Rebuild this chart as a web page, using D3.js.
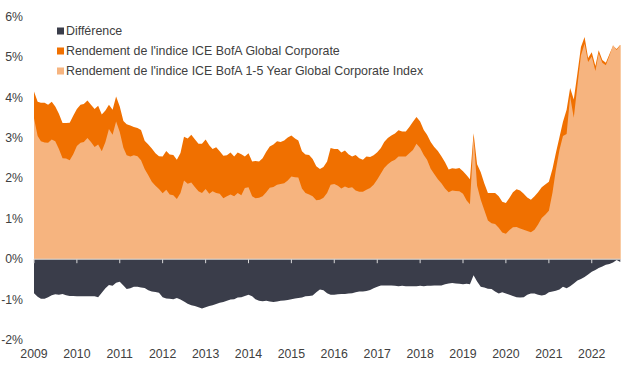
<!DOCTYPE html>
<html>
<head>
<meta charset="utf-8">
<script src="https://cdn.jsdelivr.net/npm/d3@7/dist/d3.min.js"></script>
<style>
  html, body { margin: 0; padding: 0; background: #fff; }
  svg { display: block; font-family: "Liberation Sans", Arial, sans-serif; }
</style>
</head>
<body>
<svg id="chart" width="640" height="380"></svg>
<script>
// ---- Data (monthly, Jan 2009 -> Sep 2022) ----
const startYear = 2009;
const startMonth = 0;

const globalYield = [
  4.15,3.90,3.87,3.87,3.82,3.90,3.78,3.60,3.37,3.37,3.38,3.55,
  3.72,3.82,3.84,3.93,3.82,3.72,3.80,3.58,3.68,3.82,3.70,4.03,
  3.78,3.42,3.34,3.31,3.27,3.25,3.20,2.93,2.84,2.74,2.62,2.55,
  2.54,2.68,2.59,2.58,2.46,2.63,3.03,2.99,3.08,2.97,2.86,2.86,
  2.96,2.82,2.73,2.77,2.67,2.56,2.57,2.64,2.54,2.64,2.60,2.54,
  2.62,2.42,2.43,2.42,2.50,2.66,2.79,2.84,2.92,2.90,2.94,3.01,
  3.06,2.99,2.94,2.67,2.59,2.58,2.48,2.30,2.23,2.28,2.42,2.75,
  2.73,2.73,2.64,2.69,2.60,2.54,2.58,2.50,2.46,2.54,2.53,2.57,
  2.65,2.75,2.90,3.00,3.06,3.11,3.19,3.16,3.16,3.27,3.40,3.52,
  3.41,3.20,3.08,2.90,2.78,2.68,2.55,2.40,2.22,2.25,2.24,2.26,
  2.18,2.08,1.98,3.12,2.35,2.15,1.88,1.64,1.64,1.64,1.56,1.42,
  1.39,1.52,1.66,1.73,1.70,1.62,1.53,1.47,1.56,1.66,1.78,1.85,
  1.92,2.24,2.62,3.02,3.40,3.70,4.24,3.95,4.60,5.25,5.50,4.98,
  5.12,4.78,5.17,4.93,4.86,5.08,5.28,5.20,5.31
];

const shortYield = [
  3.49,3.05,2.92,2.89,2.88,2.96,2.92,2.73,2.50,2.49,2.45,2.60,
  2.80,2.88,2.90,3.00,2.90,2.78,2.84,2.67,2.90,3.22,3.08,3.41,
  3.15,2.76,2.57,2.54,2.57,2.55,2.45,2.23,2.08,1.92,1.82,1.74,
  1.63,1.72,1.60,1.58,1.49,1.64,1.95,1.87,1.90,1.79,1.68,1.64,
  1.74,1.62,1.68,1.64,1.62,1.51,1.56,1.60,1.56,1.64,1.58,1.76,
  1.78,1.56,1.51,1.52,1.56,1.66,1.77,1.79,1.84,1.86,1.88,1.95,
  2.05,2.03,2.02,1.75,1.64,1.60,1.56,1.46,1.47,1.52,1.64,1.84,
  1.86,1.82,1.75,1.80,1.76,1.78,1.70,1.67,1.67,1.72,1.76,1.84,
  1.97,2.12,2.26,2.35,2.42,2.46,2.54,2.54,2.54,2.62,2.70,2.86,
  2.75,2.58,2.46,2.24,2.11,1.98,1.88,1.75,1.66,1.70,1.69,1.68,
  1.62,1.45,1.36,3.02,1.82,1.47,1.22,0.96,0.89,0.87,0.78,0.66,
  0.63,0.72,0.79,0.80,0.76,0.73,0.70,0.67,0.73,0.86,1.02,1.10,
  1.20,1.65,2.20,2.70,3.05,3.10,4.03,3.50,4.30,5.05,5.33,4.88,
  5.02,4.66,5.10,4.86,4.80,5.04,5.30,5.18,5.30
];

const difference = [
  -0.84,-0.93,-0.98,-0.98,-0.94,-0.89,-0.87,-0.88,-0.86,-0.89,-0.91,-0.91,
  -0.92,-0.92,-0.92,-0.92,-0.92,-0.92,-0.94,-0.83,-0.72,-0.64,-0.66,-0.58,
  -0.56,-0.65,-0.74,-0.72,-0.68,-0.68,-0.70,-0.71,-0.77,-0.80,-0.81,-0.83,
  -0.94,-0.97,-0.98,-0.99,-0.96,-1.00,-1.05,-1.10,-1.14,-1.16,-1.19,-1.22,
  -1.19,-1.16,-1.14,-1.11,-1.08,-1.06,-1.03,-1.00,-0.99,-0.95,-0.94,-0.91,
  -0.88,-0.92,-0.99,-1.03,-1.04,-1.03,-1.05,-1.06,-1.05,-1.03,-1.02,-1.01,
  -0.99,-0.97,-0.96,-0.95,-0.92,-0.91,-0.90,-0.82,-0.75,-0.77,-0.84,-0.88,
  -0.88,-0.87,-0.86,-0.86,-0.85,-0.84,-0.82,-0.80,-0.80,-0.79,-0.76,-0.72,
  -0.68,-0.65,-0.65,-0.65,-0.65,-0.66,-0.67,-0.66,-0.67,-0.67,-0.67,-0.67,
  -0.66,-0.67,-0.66,-0.66,-0.65,-0.65,-0.65,-0.62,-0.60,-0.59,-0.60,-0.61,
  -0.62,-0.61,-0.62,-0.40,-0.55,-0.68,-0.70,-0.73,-0.74,-0.80,-0.85,-0.82,
  -0.85,-0.88,-0.91,-0.94,-0.95,-0.94,-0.88,-0.85,-0.85,-0.88,-0.90,-0.88,
  -0.82,-0.80,-0.78,-0.75,-0.68,-0.72,-0.67,-0.60,-0.53,-0.49,-0.44,-0.38,
  -0.31,-0.27,-0.22,-0.18,-0.14,-0.12,-0.08,-0.02,-0.07
];

const yearLabels = ["2009","2010","2011","2012","2013","2014","2015","2016","2017","2018","2019","2020","2021","2022"];
const yTicks = [-2,-1,0,1,2,3,4,5,6];

const seriesNames = [
  "Différence",
  "Rendement de l'indice ICE BofA Global Corporate",
  "Rendement de l'indice ICE BofA 1-5 Year Global Corporate Index"
];
const seriesColors = ["#3a3d4a", "#f07000", "#f6b47f"];

// ---- Build ----
const svg = d3.select("#chart");
const dates = globalYield.map((_, i) => new Date(startYear, startMonth + i, 1));

const x = d3.scaleTime()
  .domain([dates[0], dates[dates.length - 1]])
  .range([34, 620.3]);
const y = d3.scaleLinear().domain([-2, 6]).range([340, 16.8]);

const rows = dates.map((d, i) => ({ d, g: globalYield[i], s: shortYield[i], diff: difference[i] }));

const area = key => d3.area().x(r => x(r.d)).y0(y(0)).y1(r => y(r[key]));

svg.append("path").datum(rows).attr("d", area("g")).attr("fill", seriesColors[1]);
svg.append("path").datum(rows).attr("d", area("s")).attr("fill", seriesColors[2]);
svg.append("path").datum(rows).attr("d", area("diff")).attr("fill", seriesColors[0]);

// zero axis line + ticks
svg.append("line")
  .attr("x1", 34).attr("x2", 620.3)
  .attr("y1", y(0)).attr("y2", y(0))
  .attr("stroke", "#d9d9d9").attr("stroke-width", 1);

const yearDates = yearLabels.map(l => new Date(+l, 0, 1));
svg.selectAll(".tick-mark").data(yearDates).enter().append("line")
  .attr("x1", d => x(d)).attr("x2", d => x(d))
  .attr("y1", y(0)).attr("y2", y(0) + 4)
  .attr("stroke", "#d9d9d9").attr("stroke-width", 1);

// x labels
svg.selectAll(".xl").data(yearLabels).enter().append("text")
  .attr("x", (l, i) => x(yearDates[i]))
  .attr("y", 358)
  .attr("text-anchor", "middle")
  .attr("font-size", 12.3)
  .attr("fill", "#404040")
  .text(l => l);

// y labels
svg.selectAll(".yl").data(yTicks).enter().append("text")
  .attr("x", 23)
  .attr("y", v => y(v) + 4)
  .attr("text-anchor", "end")
  .attr("font-size", 12.3)
  .attr("fill", "#404040")
  .text(v => v + "%");

// legend
const legend = svg.append("g");
seriesNames.forEach((name, i) => {
  const cy = 31 + i * 20;
  legend.append("rect")
    .attr("x", 57).attr("y", cy - 3.5).attr("width", 7).attr("height", 7)
    .attr("fill", seriesColors[i]);
  legend.append("text")
    .attr("x", 66).attr("y", cy + 4)
    .attr("font-size", 12.4)
    .attr("fill", "#404040")
    .text(name);
});
</script>
</body>
</html>
